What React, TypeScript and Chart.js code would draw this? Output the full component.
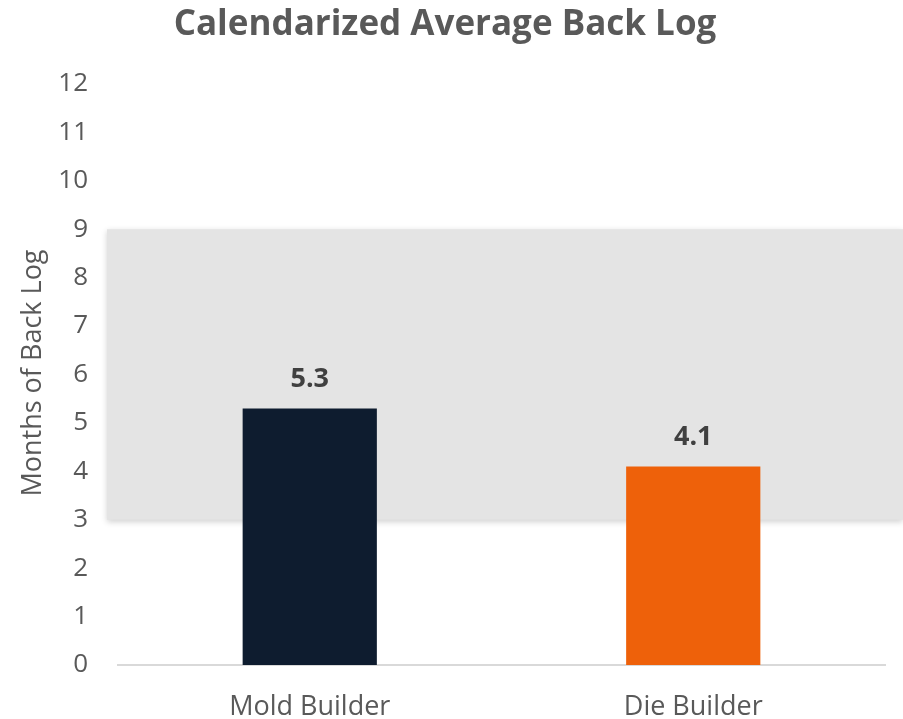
import React, { useEffect, useRef } from "react";
import { Chart, registerables } from "chart.js";

Chart.register(...registerables);

const categories = ["Mold Builder", "Die Builder"];
const values = [5.3, 4.1];
const barColors = ["#0E1C2F", "#EE610A"];
const bandRange = [3, 9];
const yMax = 12;
const titleText = "Calendarized Average Back Log";
const yTitle = "Months of Back Log";
const FONT = "'Open Sans', 'Noto Sans', sans-serif";

const bandPlugin = {
  id: "band",
  beforeDatasetsDraw(chart: any) {
    const { ctx, scales } = chart;
    const y = scales.y;
    const top = y.getPixelForValue(bandRange[1]);
    const bot = y.getPixelForValue(bandRange[0]);
    ctx.save();
    ctx.shadowColor = "rgba(0,0,0,0.18)";
    ctx.shadowBlur = 6;
    ctx.shadowOffsetX = 0;
    ctx.shadowOffsetY = 2;
    ctx.fillStyle = "#E4E4E4";
    ctx.fillRect(107, top, chart.width - 107, bot - top);
    ctx.restore();
  },
};

const labelPlugin = {
  id: "labels",
  afterDatasetsDraw(chart: any) {
    const { ctx } = chart;
    const meta = chart.getDatasetMeta(0);
    ctx.save();
    ctx.font = `bold 27px ${FONT}`;
    ctx.fillStyle = "#404040";
    ctx.textAlign = "center";
    ctx.textBaseline = "middle";
    meta.data.forEach((bar: any, i: number) => {
      ctx.fillText(values[i].toFixed(1), bar.x, bar.y - 29);
    });
    ctx.restore();
  },
};

const titlePlugin = {
  id: "customTitle",
  afterDraw(chart: any) {
    const { ctx } = chart;
    ctx.save();
    ctx.font = `bold 35px ${FONT}`;
    ctx.fillStyle = "#595959";
    ctx.textAlign = "center";
    ctx.textBaseline = "middle";
    ctx.fillText(titleText, 445, 25);
    ctx.font = `27px ${FONT}`;
    ctx.translate(33, 373);
    ctx.rotate(-Math.PI / 2);
    ctx.fillText(yTitle, 0, 0);
    ctx.restore();
  },
};

export default function App() {
  const ref = useRef<HTMLCanvasElement>(null);
  useEffect(() => {
    const chart = new Chart(ref.current!, {
      type: "bar",
      data: {
        labels: categories,
        datasets: [
          {
            data: values,
            backgroundColor: barColors,
            categoryPercentage: 1,
            barPercentage: 0.35,
          },
        ],
      },
      options: {
        animation: false,
        responsive: false,
        maintainAspectRatio: false,
        layout: { padding: { top: 84, right: 18, left: 0, bottom: 0 } },
        plugins: { legend: { display: false }, tooltip: { enabled: false }, title: { display: false } },
        scales: {
          x: {
            grid: { display: false, drawTicks: false },
            border: { display: true, color: "#D9D9D9", width: 2 },
            ticks: { color: "#595959", font: { family: FONT, size: 27 }, padding: 26 },
            afterFit(s: any) {
              s.height = 54;
            },
          },
          y: {
            min: 0,
            max: yMax,
            grid: { display: false, drawTicks: false },
            border: { display: false },
            ticks: { stepSize: 1, color: "#595959", font: { family: FONT, size: 26 }, padding: 30 },
            afterFit(s: any) {
              s.width = 118;
            },
          },
        },
      },
      plugins: [bandPlugin, labelPlugin, titlePlugin],
    });
    return () => chart.destroy();
  }, []);
  return (
    <div style={{ position: "fixed", left: 0, top: 0, width: 903, height: 719, background: "#fff" }}>
      <canvas ref={ref} width={903} height={719} />
    </div>
  );
}
